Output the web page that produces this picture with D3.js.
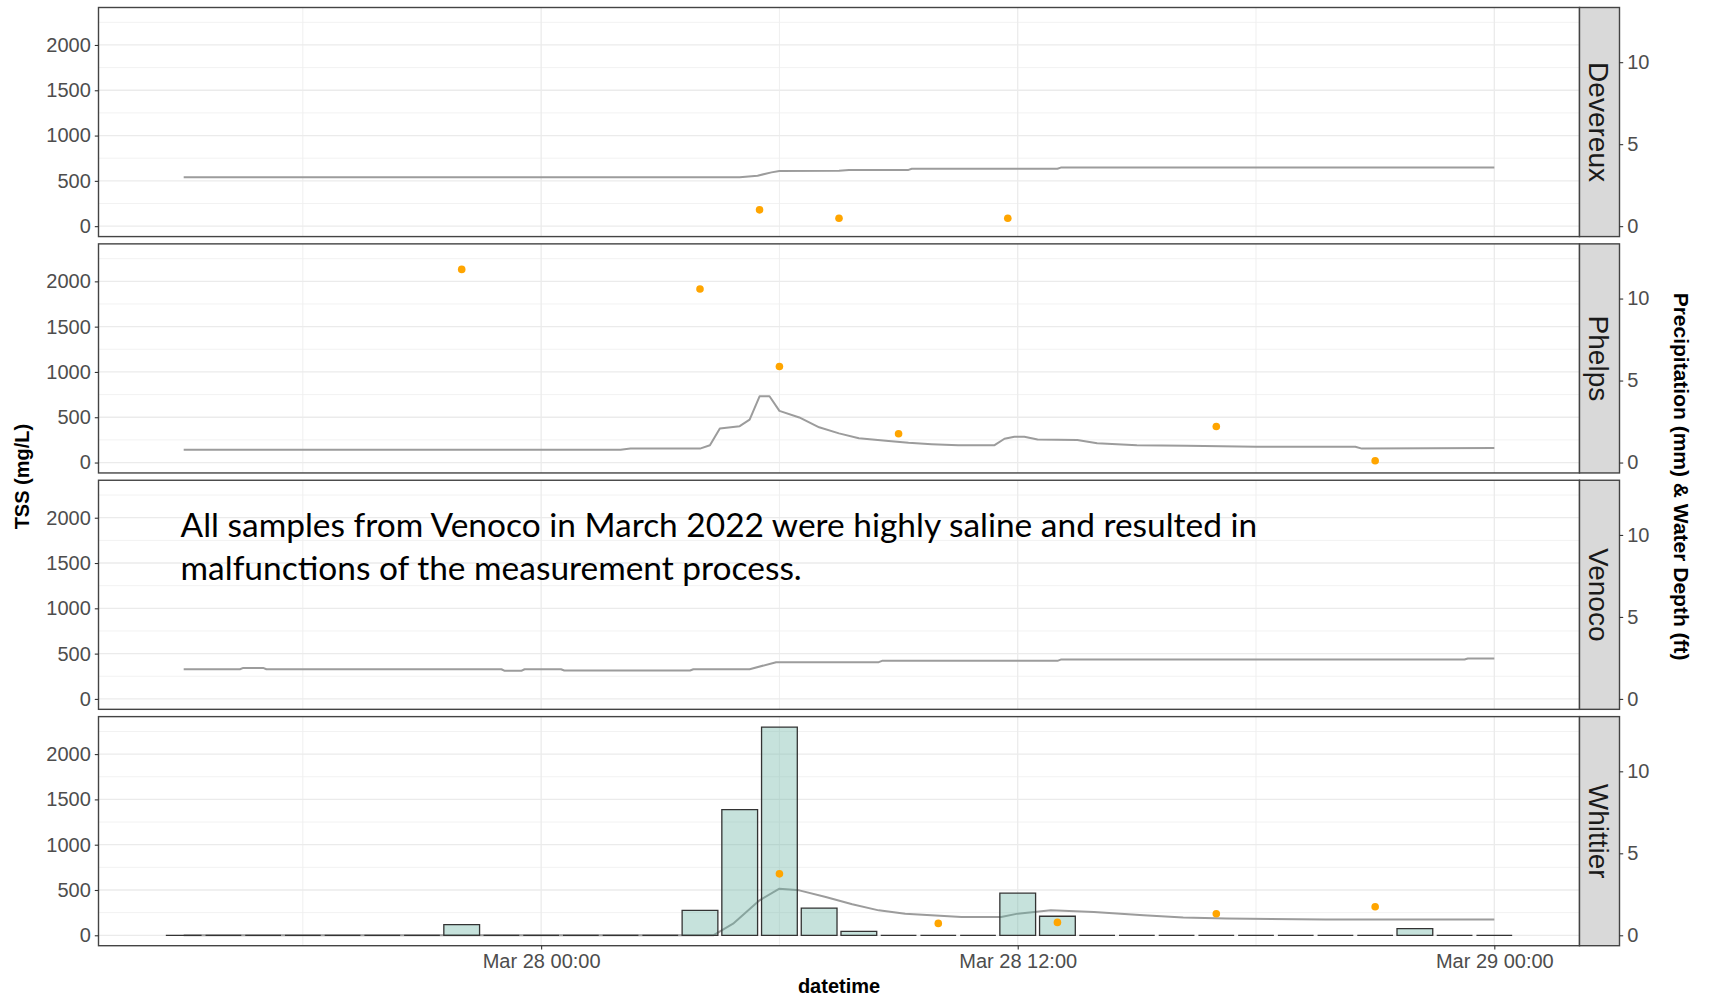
<!DOCTYPE html>
<html>
<head>
<meta charset="utf-8">
<script src="https://cdn.jsdelivr.net/npm/d3@7/dist/d3.min.js"></script>
<style>
  body { margin: 0; background: #ffffff; }
  svg { display: block; }
</style>
</head>
<body>
<svg id="chart" width="1716" height="999"></svg>
<script>
// ---- data -------------------------------------------------------------
const sites = ["Devereux", "Phelps", "Venoco", "Whittier"];

// hourly precipitation (mm), Whittier gauge
const precipHours = [
  "2022-03-27T15:00", "2022-03-27T16:00", "2022-03-27T17:00", "2022-03-27T18:00",
  "2022-03-27T19:00", "2022-03-27T20:00", "2022-03-27T21:00", "2022-03-27T22:00",
  "2022-03-27T23:00", "2022-03-28T00:00", "2022-03-28T01:00", "2022-03-28T02:00",
  "2022-03-28T03:00", "2022-03-28T04:00", "2022-03-28T05:00", "2022-03-28T06:00",
  "2022-03-28T07:00", "2022-03-28T08:00", "2022-03-28T09:00", "2022-03-28T10:00",
  "2022-03-28T11:00", "2022-03-28T12:00", "2022-03-28T13:00", "2022-03-28T14:00",
  "2022-03-28T15:00", "2022-03-28T16:00", "2022-03-28T17:00", "2022-03-28T18:00",
  "2022-03-28T19:00", "2022-03-28T20:00", "2022-03-28T21:00", "2022-03-28T22:00",
  "2022-03-28T23:00", "2022-03-29T00:00"
];
const whittierPrecip = [
  0, 0, 0, 0, 0, 0, 0, 0.65,
  0, 0, 0, 0, 0, 1.52, 7.66, 12.7,
  1.66, 0.24, 0, 0, 0, 2.57, 1.16, 0,
  0, 0, 0, 0, 0, 0, 0, 0.41,
  0, 0
];

// water depth (ft)
const devereuxDepth = [
  ["2022-03-27T15:00", 2.98], ["2022-03-28T05:00", 2.98], ["2022-03-28T05:27", 3.08],
  ["2022-03-28T05:48", 3.28], ["2022-03-28T06:00", 3.37], ["2022-03-28T07:30", 3.38],
  ["2022-03-28T07:45", 3.43], ["2022-03-28T09:15", 3.43], ["2022-03-28T09:20", 3.50],
  ["2022-03-28T13:00", 3.50], ["2022-03-28T13:05", 3.57], ["2022-03-29T00:00", 3.57]
];
const phelpsDepth = [
  ["2022-03-27T15:00", 0.78], ["2022-03-28T02:00", 0.78], ["2022-03-28T02:15", 0.85],
  ["2022-03-28T04:00", 0.85], ["2022-03-28T04:15", 1.05], ["2022-03-28T04:30", 2.08],
  ["2022-03-28T05:00", 2.22], ["2022-03-28T05:15", 2.62], ["2022-03-28T05:30", 4.04],
  ["2022-03-28T05:45", 4.04], ["2022-03-28T06:00", 3.15], ["2022-03-28T06:30", 2.75],
  ["2022-03-28T07:00", 2.15], ["2022-03-28T07:30", 1.78], ["2022-03-28T08:00", 1.48],
  ["2022-03-28T08:45", 1.32], ["2022-03-28T09:15", 1.20], ["2022-03-28T09:50", 1.12],
  ["2022-03-28T10:30", 1.06], ["2022-03-28T11:25", 1.06], ["2022-03-28T11:40", 1.45],
  ["2022-03-28T11:55", 1.57], ["2022-03-28T12:10", 1.57], ["2022-03-28T12:30", 1.40],
  ["2022-03-28T13:30", 1.38], ["2022-03-28T14:00", 1.18], ["2022-03-28T14:30", 1.12],
  ["2022-03-28T15:00", 1.06], ["2022-03-28T16:15", 1.02], ["2022-03-28T18:00", 0.96],
  ["2022-03-28T20:30", 0.96], ["2022-03-28T20:40", 0.85], ["2022-03-29T00:00", 0.88]
];
const venocoDepth = [
  ["2022-03-27T15:00", 1.81], ["2022-03-27T16:25", 1.81], ["2022-03-27T16:30", 1.89],
  ["2022-03-27T17:00", 1.89], ["2022-03-27T17:05", 1.81], ["2022-03-27T23:00", 1.81],
  ["2022-03-27T23:05", 1.71], ["2022-03-27T23:30", 1.71], ["2022-03-27T23:35", 1.81],
  ["2022-03-28T00:30", 1.81], ["2022-03-28T00:35", 1.73], ["2022-03-28T03:45", 1.73],
  ["2022-03-28T03:50", 1.81], ["2022-03-28T05:15", 1.81], ["2022-03-28T05:55", 2.24],
  ["2022-03-28T08:30", 2.24], ["2022-03-28T08:35", 2.32], ["2022-03-28T13:00", 2.32],
  ["2022-03-28T13:05", 2.40], ["2022-03-28T23:15", 2.40], ["2022-03-28T23:20", 2.46],
  ["2022-03-29T00:00", 2.46]
];
const whittierDepth = [
  ["2022-03-27T15:00", 0], ["2022-03-28T04:20", 0], ["2022-03-28T04:50", 0.71],
  ["2022-03-28T05:30", 2.13], ["2022-03-28T06:00", 2.84], ["2022-03-28T06:30", 2.74],
  ["2022-03-28T07:10", 2.33], ["2022-03-28T07:50", 1.89], ["2022-03-28T08:30", 1.52],
  ["2022-03-28T09:10", 1.32], ["2022-03-28T10:35", 1.11], ["2022-03-28T11:35", 1.11],
  ["2022-03-28T12:00", 1.32], ["2022-03-28T12:50", 1.52], ["2022-03-28T13:55", 1.42],
  ["2022-03-28T15:10", 1.22], ["2022-03-28T16:10", 1.08], ["2022-03-28T17:15", 1.02],
  ["2022-03-28T19:45", 0.97], ["2022-03-29T00:00", 0.97]
];

// total suspended solids samples (mg/L)
const devereuxTSS = [
  ["2022-03-28T05:30", 180], ["2022-03-28T07:30", 88], ["2022-03-28T11:45", 88]
];
const phelpsTSS = [
  ["2022-03-27T22:00", 2132], ["2022-03-28T04:00", 1915], ["2022-03-28T06:00", 1060],
  ["2022-03-28T09:00", 318], ["2022-03-28T17:00", 398], ["2022-03-28T21:00", 20]
];
const venocoTSS = [];
const whittierTSS = [
  ["2022-03-28T06:00", 678], ["2022-03-28T10:00", 131], ["2022-03-28T13:00", 142],
  ["2022-03-28T17:00", 237], ["2022-03-28T21:00", 315]
];

// axes
const tssTicks = [0, 500, 1000, 1500, 2000];
const tssMinorTicks = [250, 750, 1250, 1750, 2250];
const depthTicks = [0, 5, 10];
const timeTicks = ["2022-03-28T00:00", "2022-03-28T12:00", "2022-03-29T00:00"];
const timeMinorTicks = ["2022-03-27T18:00", "2022-03-28T06:00", "2022-03-28T18:00"];

const noteLines = [
  "All samples from Venoco in March 2022 were highly saline and resulted in",
  "malfunctions of the measurement process."
];

// ---- setup ------------------------------------------------------------
const parseT = d3.utcParse("%Y-%m-%dT%H:%M");
const secFactor = 181;          // TSS units per mm / ft on the secondary axis
const barWidthHours = 0.9;

const depthBySite = { Devereux: devereuxDepth, Phelps: phelpsDepth, Venoco: venocoDepth, Whittier: whittierDepth };
const tssBySite = { Devereux: devereuxTSS, Phelps: phelpsTSS, Venoco: venocoTSS, Whittier: whittierTSS };
const precipBySite = { Whittier: whittierPrecip };

const svg = d3.select("#chart");
const plotL = 98.5, plotR = 1579.5, stripW = 40;
const plotT = 7.5, plotB = 945.7, panelGap = 7.3;
const panelH = (plotB - plotT - panelGap * (sites.length - 1)) / sites.length;

// x scale: bar extents plus 5% expansion each side
const hourMs = 3600 * 1000;
const barTimes = precipHours.map(parseT);
const xMin = +d3.min(barTimes) - barWidthHours / 2 * hourMs;
const xMax = +d3.max(barTimes) + barWidthHours / 2 * hourMs;
const xPad = (xMax - xMin) * 0.05;
const x = d3.scaleUtc()
  .domain([new Date(xMin - xPad), new Date(xMax + xPad)])
  .range([plotL, plotR]);

// y scale shared by all panels (fixed facets)
const yMaxData = d3.max([
  d3.max(Object.values(tssBySite).flat(), d => d[1]) || 0,
  d3.max(whittierPrecip) * secFactor,
  d3.max(Object.values(depthBySite).flat(), d => d[1]) * secFactor
]);
const y = d3.scaleLinear()
  .domain([-0.05 * yMaxData, 1.05 * yMaxData])
  .range([panelH, 0]);
const y2 = d3.scaleLinear()
  .domain(y.domain().map(v => v / secFactor))
  .range(y.range());

const tickFont = "'Liberation Sans', Arial, sans-serif";

sites.forEach((site, i) => {
  const top = plotT + i * (panelH + panelGap);
  const g = svg.append("g").attr("transform", `translate(0,${top})`);

  // panel background
  g.append("rect").attr("x", plotL).attr("y", 0)
    .attr("width", plotR - plotL).attr("height", panelH).attr("fill", "#ffffff");

  // grid
  const grid = g.append("g");
  grid.selectAll(".hmin").data(tssMinorTicks).join("line")
    .attr("x1", plotL).attr("x2", plotR)
    .attr("y1", d => y(d)).attr("y2", d => y(d))
    .attr("stroke", "#f2f2f2").attr("stroke-width", 1);
  grid.selectAll(".vmin").data(timeMinorTicks).join("line")
    .attr("x1", d => x(parseT(d))).attr("x2", d => x(parseT(d)))
    .attr("y1", 0).attr("y2", panelH)
    .attr("stroke", "#efefef").attr("stroke-width", 1);
  grid.selectAll(".hmaj").data(tssTicks).join("line")
    .attr("x1", plotL).attr("x2", plotR)
    .attr("y1", d => y(d)).attr("y2", d => y(d))
    .attr("stroke", "#ebebeb").attr("stroke-width", 1.3);
  grid.selectAll(".vmaj").data(timeTicks).join("line")
    .attr("x1", d => x(parseT(d))).attr("x2", d => x(parseT(d)))
    .attr("y1", 0).attr("y2", panelH)
    .attr("stroke", "#ebebeb").attr("stroke-width", 1.3);

  // water depth line (secondary axis)
  const line = d3.line()
    .x(d => x(parseT(d[0])))
    .y(d => y2(d[1]));
  g.append("path").datum(depthBySite[site])
    .attr("d", line).attr("fill", "none")
    .attr("stroke", "#9c9c9c").attr("stroke-width", 2)
    .attr("stroke-linejoin", "round");

  // precipitation bars (secondary axis); drawn as closed paths so that
  // zero-height hours still show their outline
  const precip = precipBySite[site];
  if (precip) {
    const bw = x(new Date(+barTimes[0] + barWidthHours * hourMs)) - x(barTimes[0]);
    g.append("g").selectAll("path")
      .data(precip.map((v, k) => ({ t: barTimes[k], v })))
      .join("path")
      .attr("d", d => {
        const x0 = x(d.t) - bw / 2, x1 = x(d.t) + bw / 2;
        const yb = y2(0), yt = y2(d.v);
        return `M${x0},${yb}V${yt}H${x1}V${yb}Z`;
      })
      .attr("fill", "#69b3a2").attr("fill-opacity", 0.38)
      .attr("stroke", "#333333").attr("stroke-width", 1.3);
  }

  // TSS samples
  g.append("g").selectAll("circle").data(tssBySite[site]).join("circle")
    .attr("cx", d => x(parseT(d[0])))
    .attr("cy", d => y(d[1]))
    .attr("r", 3.8)
    .attr("fill", "#FFA500");

  // panel border
  g.append("rect").attr("x", plotL).attr("y", 0)
    .attr("width", plotR - plotL).attr("height", panelH)
    .attr("fill", "none").attr("stroke", "#444444").attr("stroke-width", 1.4);

  // strip
  g.append("rect").attr("x", plotR).attr("y", 0)
    .attr("width", stripW).attr("height", panelH)
    .attr("fill", "#d9d9d9").attr("stroke", "#444444").attr("stroke-width", 1.4);
  g.append("text")
    .attr("transform", `translate(${plotR + stripW / 2},${panelH / 2}) rotate(90)`)
    .attr("text-anchor", "middle").attr("dy", "0.36em")
    .attr("font-family", tickFont).attr("font-size", 28)
    .attr("fill", "#1a1a1a").text(site);

  // left axis
  const yAxis = d3.axisLeft(y).tickValues(tssTicks).tickFormat(d3.format("d"))
    .tickSize(3.7).tickPadding(4).tickSizeOuter(0);
  const ya = g.append("g").attr("transform", `translate(${plotL},0)`).call(yAxis);
  ya.select(".domain").remove();
  ya.selectAll(".tick line").attr("stroke", "#333333").attr("stroke-width", 1.1);
  ya.selectAll(".tick text").attr("font-family", tickFont).attr("font-size", 20).attr("fill", "#4d4d4d");

  // right (secondary) axis
  const y2Axis = d3.axisRight(y2).tickValues(depthTicks).tickFormat(d3.format("d"))
    .tickSize(3.7).tickPadding(4).tickSizeOuter(0);
  const yb = g.append("g").attr("transform", `translate(${plotR + stripW},0)`).call(y2Axis);
  yb.select(".domain").remove();
  yb.selectAll(".tick line").attr("stroke", "#333333").attr("stroke-width", 1.1);
  yb.selectAll(".tick text").attr("font-family", tickFont).attr("font-size", 20).attr("fill", "#4d4d4d");

  // note in the Venoco panel
  if (site === "Venoco") {
    const note = g.append("g").attr("font-family", "Lato, 'Open Sans', sans-serif").attr("fill", "#000000");
    const t1 = note.append("text").attr("x", 180.6).attr("y", 57).attr("font-size", 32).text(noteLines[0]);
    const w1 = t1.node().getComputedTextLength();
    const fs = 32 * 1077 / w1;
    t1.attr("font-size", fs);
    note.append("text").attr("x", 180.6).attr("y", 100).attr("font-size", fs).text(noteLines[1]);
  }
});

// bottom time axis
const xAxis = d3.axisBottom(x)
  .tickValues(timeTicks.map(parseT))
  .tickFormat(d3.utcFormat("%b %d %H:%M"))
  .tickSize(3.7).tickPadding(4).tickSizeOuter(0);
const xa = svg.append("g").attr("transform", `translate(0,${plotB})`).call(xAxis);
xa.select(".domain").remove();
xa.selectAll(".tick line").attr("stroke", "#333333").attr("stroke-width", 1.1);
xa.selectAll(".tick text").attr("font-family", tickFont).attr("font-size", 20).attr("fill", "#4d4d4d");

// axis titles
svg.append("text")
  .attr("x", (plotL + plotR) / 2).attr("y", 993)
  .attr("text-anchor", "middle")
  .attr("font-family", tickFont).attr("font-size", 20).attr("font-weight", "bold")
  .attr("fill", "#000000").text("datetime");
svg.append("text")
  .attr("transform", `translate(22,${(plotT + plotB) / 2}) rotate(-90)`)
  .attr("text-anchor", "middle").attr("dy", "0.36em")
  .attr("font-family", tickFont).attr("font-size", 20).attr("font-weight", "bold")
  .attr("fill", "#000000").text("TSS (mg/L)");
svg.append("text")
  .attr("transform", `translate(1682,${(plotT + plotB) / 2}) rotate(90)`)
  .attr("text-anchor", "middle").attr("dy", "0.36em")
  .attr("font-family", tickFont).attr("font-size", 21).attr("font-weight", "bold")
  .attr("fill", "#000000").text("Precipitation (mm) & Water Depth (ft)");
</script>
</body>
</html>
